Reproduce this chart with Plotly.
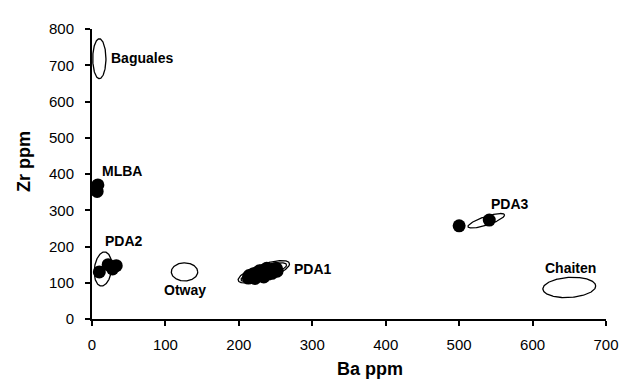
import numpy as np
import plotly.graph_objects as go

# Filled sample points (Ba ppm, Zr ppm)
mlba_ba = [8, 7]
mlba_zr = [370, 352]
pda2_ba = [10, 22, 28, 33]
pda2_zr = [130, 150, 138, 147]
pda1_ba = [213, 217, 220, 223, 226, 229, 232, 235, 238, 241, 244, 247, 251, 236, 226, 240, 246,
           220, 230, 250, 228, 238, 222, 245, 234, 252, 214]
pda1_zr = [113, 115, 120, 117, 122, 125, 121, 127, 130, 128, 134, 138, 140, 133, 128, 124, 131,
           125, 119, 134, 133, 140, 112, 126, 116, 132, 120]
pda3_ba = [500, 541]
pda3_zr = [257, 273]

# Reference fields (ellipses): centre Ba, centre Zr, half-range Ba, half-range Zr, phase (deg)
ell_names = ["Baguales", "PDA2", "Otway", "PDA1 outer", "PDA1 inner", "PDA3", "Chaiten"]
ell_cx = [10, 15, 126, 234, 234, 537, 650]
ell_cy = [718, 138, 130, 130, 129, 271, 87]
ell_rx = [9, 12, 18, 35, 31, 25, 36]
ell_ry = [55, 47, 25, 31, 26, 20, 28]
ell_phase = [90, 80, 90, 45, 39, 38, 82]

# Field labels
lab_text = ["Baguales", "MLBA", "PDA2", "Otway", "PDA1", "PDA3", "Chaiten"]
lab_ba = [23, 11, 15, 95, 272, 540, 614]
lab_zr = [720, 409, 214, 80, 139, 318, 142]

x_ticks = [0, 100, 200, 300, 400, 500, 600, 700]
y_ticks = [0, 100, 200, 300, 400, 500, 600, 700, 800]

fig = go.Figure()

t = np.linspace(0, 2 * np.pi, 200)
for cx, cy, rx, ry, ph in zip(ell_cx, ell_cy, ell_rx, ell_ry, ell_phase):
    d = np.deg2rad(ph)
    fig.add_trace(go.Scatter(
        x=cx + rx * np.cos(t), y=cy + ry * np.cos(t - d),
        mode="lines", line=dict(color="black", width=1.3),
        hoverinfo="skip", showlegend=False))

for bx, zy in [(mlba_ba, mlba_zr), (pda2_ba, pda2_zr), (pda1_ba, pda1_zr), (pda3_ba, pda3_zr)]:
    fig.add_trace(go.Scatter(
        x=bx, y=zy, mode="markers",
        marker=dict(color="black", size=13, line=dict(width=0)),
        showlegend=False))

for txt, bx, zy in zip(lab_text, lab_ba, lab_zr):
    fig.add_annotation(x=bx, y=zy, text=txt, showarrow=False, xanchor="left",
                       yanchor="middle",
                       font=dict(family="Liberation Sans, Arial", size=14, color="black", weight="bold"))

# plot area in page pixels: x 92..606, y 20..319 (page has 8px body margin)
fig.add_annotation(xref="paper", yref="paper", x=(370 - 92) / 514, y=(319 - 371) / 299,
                   text="<b>Ba ppm</b>", showarrow=False, xanchor="center", yanchor="middle",
                   font=dict(family="Liberation Sans, Arial", size=18, color="black"))
fig.add_annotation(xref="paper", yref="paper", x=(24 - 92) / 514, y=(319 - 157) / 299,
                   text="<b>Zr ppm</b>", showarrow=False, xanchor="center", yanchor="middle",
                   textangle=-90,
                   font=dict(family="Liberation Sans, Arial", size=18, color="black"))

axis_common = dict(showgrid=False, zeroline=False, showline=True, linecolor="black",
                   linewidth=2, ticks="outside", ticklen=5, tickwidth=1.5, tickcolor="black",
                   tickfont=dict(family="Liberation Sans, Arial", size=15, color="black"))

fig.update_xaxes(range=[0, 700], tickvals=x_ticks, ticklabelstandoff=6, **axis_common)
fig.update_yaxes(range=[0, 800], tickvals=y_ticks, ticklabelstandoff=8, **axis_common)

fig.update_layout(width=632, height=380, margin=dict(l=84, r=34, t=12, b=69),
                  plot_bgcolor="white", paper_bgcolor="white", showlegend=False)

fig.write_html("out.html")
